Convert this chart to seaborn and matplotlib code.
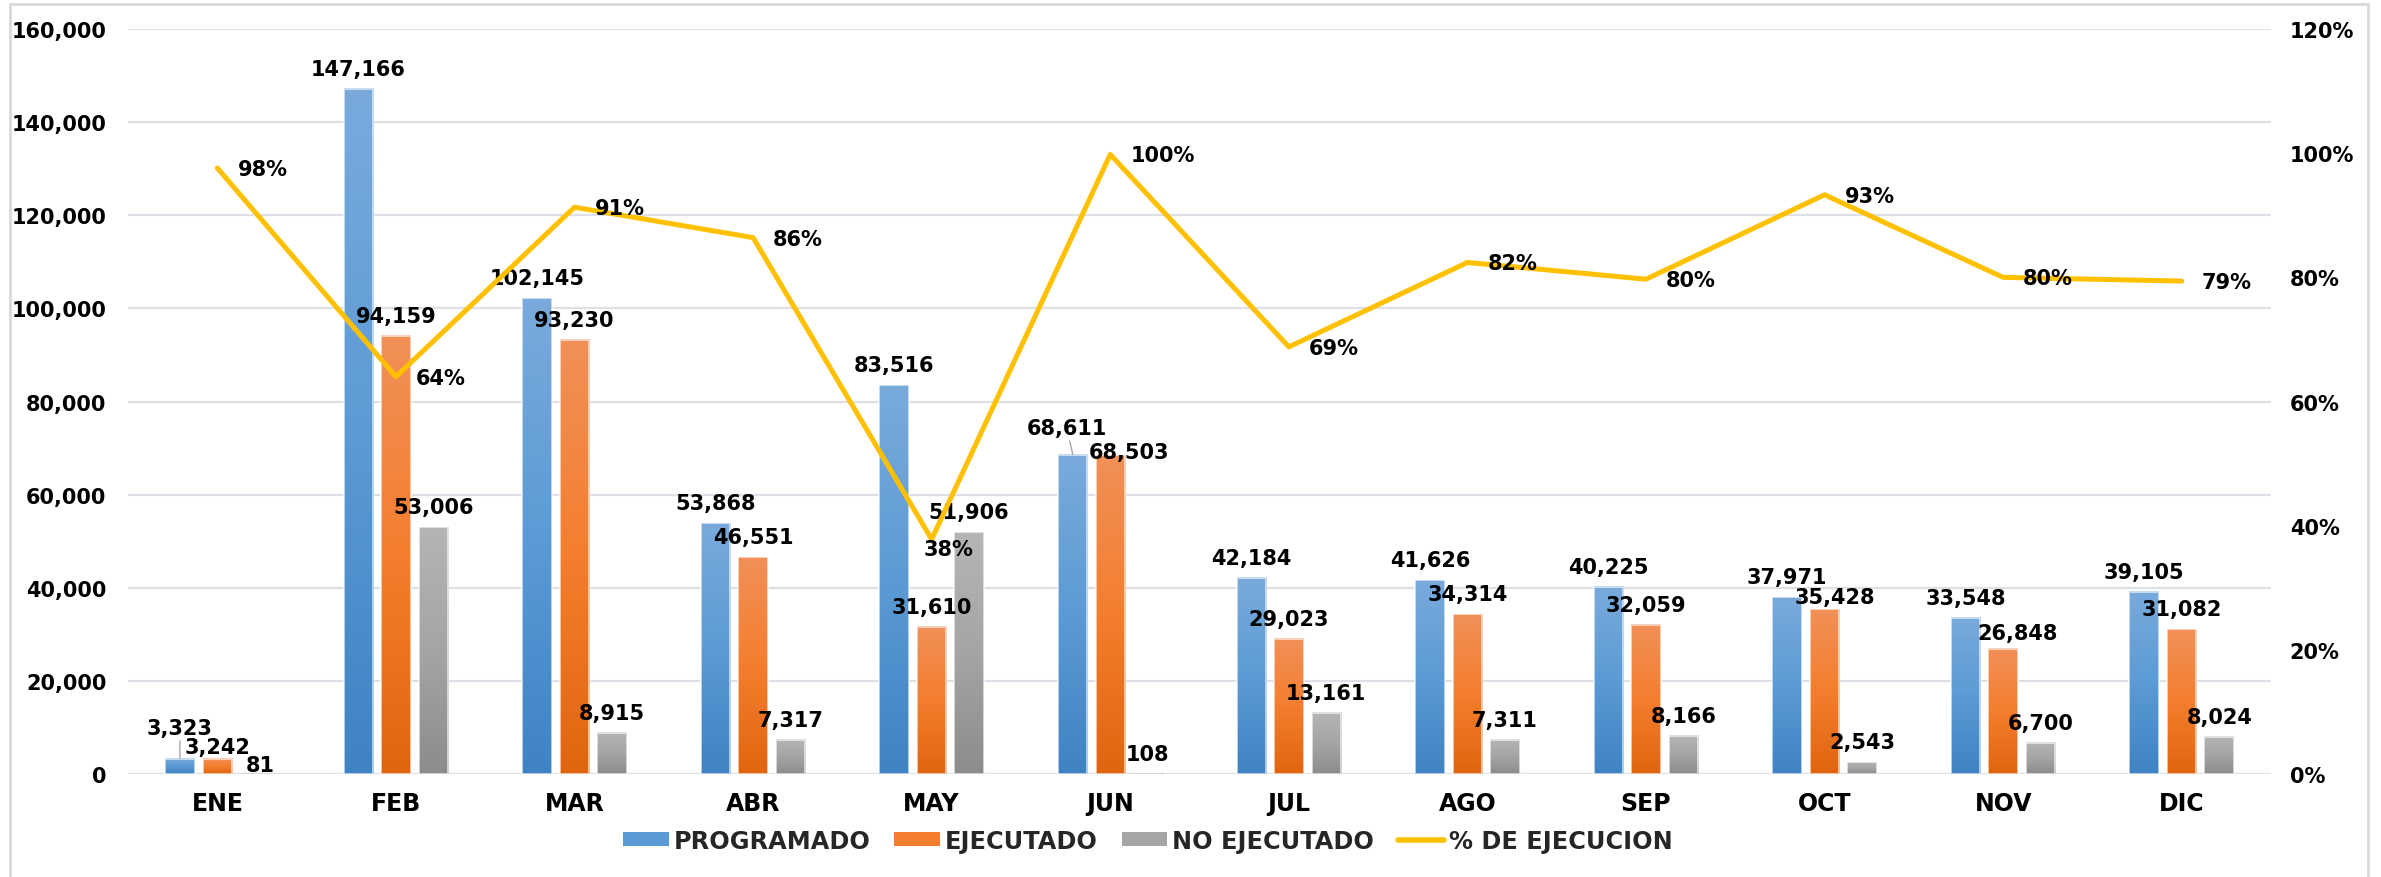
import numpy as np
import pandas as pd
import matplotlib
matplotlib.use('Agg')
import matplotlib.pyplot as plt
import matplotlib.ticker as mticker
from matplotlib.colors import LinearSegmentedColormap
from matplotlib.patches import Patch, Rectangle
from matplotlib.lines import Line2D
import seaborn as sns

# ── datos ────────────────────────────────────────────────────
MESES = ['ENE', 'FEB', 'MAR', 'ABR', 'MAY', 'JUN', 'JUL', 'AGO', 'SEP', 'OCT', 'NOV', 'DIC']
PROGRAMADO = [3323, 147166, 102145, 53868, 83516, 68611, 42184, 41626, 40225, 37971, 33548, 39105]
EJECUTADO = [3242, 94159, 93230, 46551, 31610, 68503, 29023, 34314, 32059, 35428, 26848, 31082]
NO_EJECUTADO = [81, 53006, 8915, 7317, 51906, 108, 13161, 7311, 8166, 2543, 6700, 8024]
PCT_EJECUCION = [0.976, 0.640, 0.913, 0.864, 0.378, 0.998, 0.688, 0.824, 0.797, 0.933, 0.800, 0.794]
SERIES = ['PROGRAMADO', 'EJECUTADO', 'NO EJECUTADO']

# ── estilo ───────────────────────────────────────────────────
GRAD = {
    'PROGRAMADO':   ['#7AAADC', '#5B9BD5', '#3F83C3'],
    'EJECUTADO':    ['#F19058', '#F47E2E', '#E06510'],
    'NO EJECUTADO': ['#B5B5B5', '#A5A5A5', '#8C8C8C'],
}
LINE_COLOR = '#FFC000'
GRID_COLOR = '#DCE1E8'
FS_DATA = 15
FS_CAT = 17
FS_LEG = 17.3

# desplazamientos (px) de etiquetas movidas a mano; por defecto (0, 14)
BAR_NUDGE = {
    ('PROGRAMADO', 'ENE'): (0, 25, True),
    ('EJECUTADO', 'ENE'): (0, 6, False),
    ('NO EJECUTADO', 'ENE'): (5, 3, False),
    ('PROGRAMADO', 'JUN'): (-6, 21, True),
    ('EJECUTADO', 'JUN'): (19, -3, False),
    ('EJECUTADO', 'OCT'): (10, 6, False),
    ('EJECUTADO', 'NOV'): (14, 10, False),
}
LINE_NUDGE = {'MAY': (-8, -16)}

sns.set_theme(style='white')
plt.rcParams['font.family'] = ['DejaVu Sans']
plt.rcParams['font.weight'] = 'bold'

fig = plt.figure(figsize=(23.81, 8.78), dpi=100)
ax = fig.add_axes([0.0538, 0.1173, 0.9, 0.8485])

df = pd.DataFrame({
    'mes': MESES * 3,
    'serie': np.repeat(SERIES, len(MESES)),
    'valor': PROGRAMADO + EJECUTADO + NO_EJECUTADO,
})
sns.barplot(data=df, x='mes', y='valor', hue='serie', order=MESES, hue_order=SERIES,
            palette=[GRAD[s][1] for s in SERIES], width=0.63, gap=0.214,
            saturation=1, errorbar=None, legend=False, ax=ax,
            edgecolor=(1, 1, 1, 0.7), linewidth=1.2)

# relleno degradado tipo Excel
for serie, cont in zip(SERIES, ax.containers):
    cmap = LinearSegmentedColormap.from_list(serie, GRAD[serie])
    for rect in cont:
        x0, w, h = rect.get_x(), rect.get_width(), rect.get_height()
        ax.imshow(np.linspace(0, 1, 128).reshape(-1, 1), cmap=cmap,
                  extent=(x0, x0 + w, 0, h), origin='upper', aspect='auto',
                  zorder=0.9, interpolation='bilinear')
        rect.set_facecolor('none')

# etiquetas de barras
for serie, cont in zip(SERIES, ax.containers):
    for mes, rect in zip(MESES, cont):
        dx, dy, leader = BAR_NUDGE.get((serie, mes), (0, 14, False))
        xc = rect.get_x() + rect.get_width() / 2
        top = rect.get_height()
        kw = {}
        if leader:
            kw['arrowprops'] = dict(arrowstyle='-', color='#A6A6A6', lw=1,
                                    shrinkA=0, shrinkB=0)
        ax.annotate(f'{top:,.0f}', xy=(xc, top), xytext=(dx, dy),
                    textcoords='offset pixels', ha='center', va='baseline',
                    fontsize=FS_DATA, fontweight='bold', color='black', **kw)

ax.set_xlim(-0.5, len(MESES) - 0.5)
ax.set_ylim(0, 160000)
ax.set_yticks(np.arange(0, 160001, 20000))
ax.yaxis.set_major_formatter(mticker.StrMethodFormatter('{x:,.0f}'))
ax.grid(axis='y', color=GRID_COLOR, linewidth=1.6)
ax.grid(axis='x', visible=False)
ax.set_axisbelow(True)
ax.set_xlabel('')
ax.set_ylabel('')
ax.tick_params(axis='y', length=0, labelsize=FS_DATA, pad=15.5, labelcolor='black')
ax.tick_params(axis='x', length=0, labelsize=FS_CAT, pad=12.5, labelcolor='black')
for lbl in ax.get_xticklabels() + ax.get_yticklabels():
    lbl.set_fontweight('bold')
sns.despine(ax=ax, left=True, bottom=True)

# % de ejecución en eje derecho
ax2 = ax.twinx()
x_pos = np.arange(len(MESES))
sns.lineplot(x=x_pos, y=PCT_EJECUCION, ax=ax2, color=LINE_COLOR, linewidth=3.6)
for i, (mes, v) in enumerate(zip(MESES, PCT_EJECUCION)):
    dx, dy = LINE_NUDGE.get(mes, (20, -7))
    ax2.annotate(f'{v:.0%}', xy=(x_pos[i], v), xytext=(dx, dy),
                 textcoords='offset pixels', ha='left', va='baseline',
                 fontsize=FS_DATA, fontweight='bold', color='black')
ax2.set_ylim(0, 1.2)
ax2.set_yticks(np.arange(0, 1.21, 0.2))
ax2.yaxis.set_major_formatter(mticker.PercentFormatter(xmax=1, decimals=0))
ax2.grid(False)
ax2.set_ylabel('')
ax2.tick_params(axis='y', length=0, labelsize=FS_DATA, pad=13.5, labelcolor='black')
for lbl in ax2.get_yticklabels():
    lbl.set_fontweight('bold')
for sp in ax2.spines.values():
    sp.set_visible(False)
ax.set_xlim(-0.5, len(MESES) - 0.5)

# leyenda
handles = [Patch(facecolor=GRAD[s][1], edgecolor='none') for s in SERIES]
handles.append(Line2D([0], [0], color=LINE_COLOR, lw=4))
fig.legend(handles, SERIES + ['% DE EJECUCION'], loc='center',
           bbox_to_anchor=(0.482, 0.0413), ncol=4, frameon=False,
           handlelength=1.9, handleheight=0.55,
           handletextpad=0.2, columnspacing=1.0,
           prop={'size': FS_LEG, 'weight': 'bold'})

# marco del gráfico
fig.patches.append(Rectangle((0.0042, -0.01), 0.9903, 1.0043, transform=fig.transFigure,
                             fill=False, edgecolor='#D9D9D9', linewidth=2))

fig.savefig('out.png', dpi=100)
plt.close()
